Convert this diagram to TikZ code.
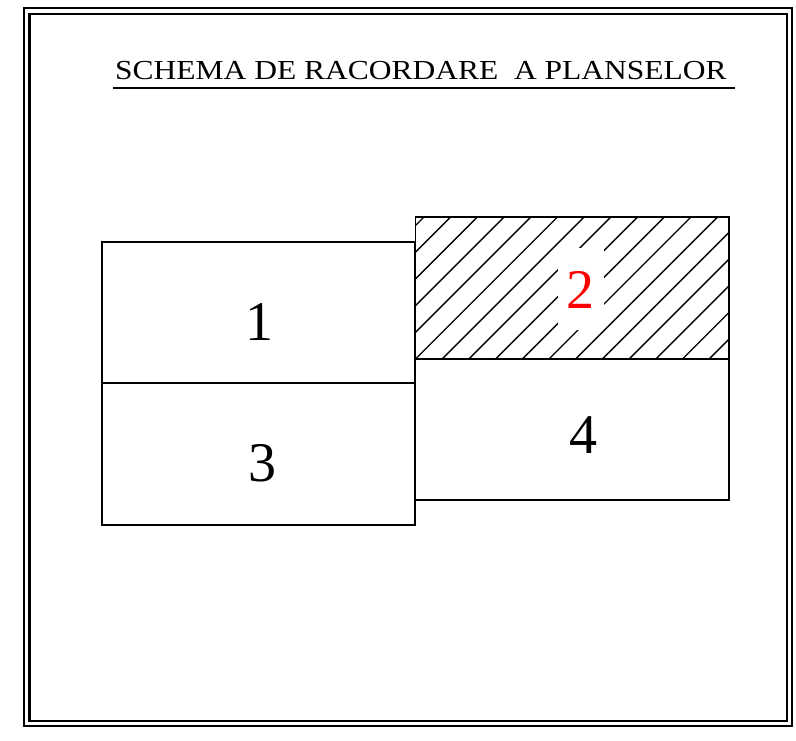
\documentclass[tikz,border=0pt]{standalone}
\usepackage{fontspec}
\setmainfont{Liberation Serif}
\begin{document}
\begin{tikzpicture}[x=1pt,y=-1pt,
  panel/.style={draw=black,line width=1.8pt,rectangle,inner sep=0pt},
  numlabel/.style={font=\fontsize{56}{56}\selectfont,inner sep=0pt,anchor=base},
  hatchline/.style={line width=1.4pt}]
\useasboundingbox (0,0) rectangle (796,741);
\fill[white] (0,0) rectangle (796,741);
% double border
\draw[line width=1.4pt] (24,8) rectangle (792,726);
\draw[line width=2.4pt] (29.5,14) rectangle (787,721);
% title
\node[font=\fontsize{27.5}{27.5}\selectfont,inner sep=0pt,anchor=base west] (title) at (115,80) {\scalebox{1.145}[1]{SCHEMA DE RACORDARE\ \ A PLANSELOR}};
\draw[line width=1.6pt] (113,88) coordinate (ul1) -- (735,88) coordinate (ul2);
% hatching of panel 2
\begin{scope}
\clip (415.5,217) rectangle (729,359);
\foreach \i in {-8,...,12} {
  \draw[hatchline] (415.5+26.7*\i,359) -- ++(160,-160);
}
\fill[white] (558,248) rectangle (604,330);
\end{scope}
% panels
\node[panel,minimum width=313.5pt,minimum height=141pt] (p1) at (258.5,312.7) {};
\node[panel,minimum width=313.5pt,minimum height=141.7pt] (p3) at (258.5,454.2) {};
\node[panel,minimum width=313.5pt,minimum height=142pt] (p2) at (572.2,288) {};
\node[panel,minimum width=313.5pt,minimum height=141pt] (p4) at (572.2,429.5) {};
% labels
\node[numlabel] (l1) at (259,340) {1};
\node[numlabel] (l3) at (262,481) {3};
\node[numlabel,text=red] (l2) at (580.5,308) {2};
\node[numlabel] (l4) at (583,453) {4};
\end{tikzpicture}
\end{document}
